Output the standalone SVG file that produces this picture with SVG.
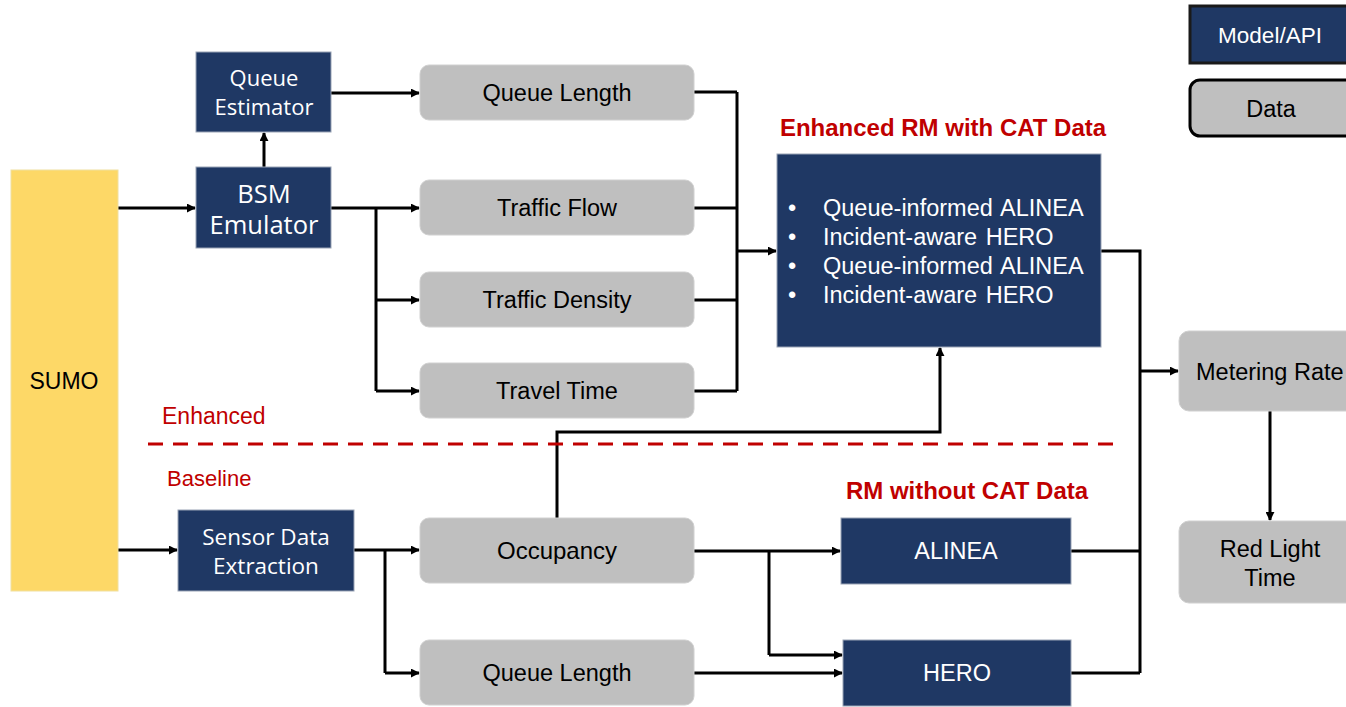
<svg xmlns="http://www.w3.org/2000/svg" width="1346" height="707" viewBox="0 0 1346 707">
<defs>
<marker id="ah" viewBox="0 0 10 10" refX="9" refY="5" markerWidth="9" markerHeight="9" markerUnits="userSpaceOnUse" orient="auto">
<path d="M0,0 L10,5 L0,10 z" fill="#000"/>
</marker>
<style>
.model{fill:#1F3864;stroke:#9aa3b5;stroke-width:1}
.data{fill:#BFBFBF;stroke:#d0d0d0;stroke-width:1}
.wt{fill:#fff;font-family:"Liberation Sans",Arial,sans-serif;font-size:23.5px;text-anchor:middle}
.ws{fill:#fff;font-family:"Open Sans","Noto Sans",sans-serif;font-size:22px;text-anchor:middle}
.bt{fill:#000;font-family:"Liberation Sans",Arial,sans-serif;font-size:23.5px;text-anchor:middle}
.red{fill:#C00000;font-family:"Liberation Sans",Arial,sans-serif;font-size:23px}
.redb{fill:#C00000;font-family:"Liberation Sans",Arial,sans-serif;font-size:24px;font-weight:bold;text-anchor:middle}
.c{fill:none;stroke:#000;stroke-width:3}
.ca{fill:none;stroke:#000;stroke-width:3;marker-end:url(#ah)}
.bul{fill:#fff;font-family:"Liberation Sans",Arial,sans-serif;font-size:23.5px;word-spacing:2px}
</style>
</defs>
<rect width="1346" height="707" fill="#fff"/>

<g id="legend-model"><rect x="1190" y="6" width="162" height="57" fill="#1F3864" stroke="#1a1a1a" stroke-width="3"/><text class="wt" x="1270" y="43" style="font-size:22.5px">Model/API</text></g>
<g id="legend-data"><rect x="1190" y="80" width="170" height="56" rx="10" fill="#BFBFBF" stroke="#000" stroke-width="3"/><text class="bt" x="1271" y="117">Data</text></g>

<g id="connectors">
<path class="ca" d="M118,208 H195"/>
<path class="ca" d="M264,167 V133"/>
<path class="ca" d="M331,93 H419"/>
<path class="ca" d="M331,208 H419"/>
<path class="c" d="M376,208 V391"/>
<path class="ca" d="M376,300 H419"/>
<path class="ca" d="M376,391 H419"/>
<path class="c" d="M694,92 H737 M694,208 H737 M694,300 H737 M694,391 H737 M737,92 V391"/>
<path class="ca" d="M737,251 H776"/>
<path class="c" d="M1101,251 H1140 V673"/>
<path class="ca" d="M1140,371 H1178"/>
<path class="ca" d="M1270,411 V520"/>
<path class="ca" d="M118,550 H177"/>
<path class="ca" d="M354,550 H419"/>
<path class="c" d="M385,550 V673"/>
<path class="ca" d="M385,673 H419"/>
<path class="ca" d="M557,518 V432 H940 V348"/>
<path class="ca" d="M694,551 H840"/>
<path class="c" d="M769,551 V655"/>
<path class="ca" d="M769,655 H842"/>
<path class="ca" d="M694,673 H842"/>
<path class="c" d="M1071,551 H1140 M1071,673 H1140"/>
<path d="M148,444 H1120" fill="none" stroke="#C00000" stroke-width="3" stroke-dasharray="15,10"/>
</g>

<g id="sumo"><rect x="11" y="170" width="107" height="421" fill="#FDD867" stroke="#f0e0a0" stroke-width="1"/><text class="bt" x="64" y="389" style="font-size:23px">SUMO</text></g>

<g id="queue-estimator"><rect class="model" x="196" y="52" width="135" height="80"/><text class="ws" x="264" y="86">Queue</text><text class="ws" x="264" y="115">Estimator</text></g>
<g id="bsm-emulator"><rect class="model" x="196" y="167" width="135" height="81"/><text class="ws" x="264" y="203" style="font-size:25.5px">BSM</text><text class="ws" x="264" y="234" style="font-size:25.5px">Emulator</text></g>

<g id="queue-length-top"><rect class="data" x="420" y="65" width="274" height="55" rx="9"/><text class="bt" x="557" y="101">Queue Length</text></g>
<g id="traffic-flow"><rect class="data" x="420" y="180" width="274" height="55" rx="9"/><text class="bt" x="557" y="216">Traffic Flow</text></g>
<g id="traffic-density"><rect class="data" x="420" y="272" width="274" height="55" rx="9"/><text class="bt" x="557" y="308">Traffic Density</text></g>
<g id="travel-time"><rect class="data" x="420" y="363" width="274" height="55" rx="9"/><text class="bt" x="557" y="399">Travel Time</text></g>

<g id="enhanced-rm">
<text class="redb" x="943" y="136">Enhanced RM with CAT Data</text>
<rect class="model" x="777" y="154" width="324" height="193"/>
<text class="bul" x="788" y="216">•</text><text class="bul" x="823" y="216">Queue-informed ALINEA</text>
<text class="bul" x="788" y="245">•</text><text class="bul" x="823" y="245">Incident-aware HERO</text>
<text class="bul" x="788" y="274">•</text><text class="bul" x="823" y="274">Queue-informed ALINEA</text>
<text class="bul" x="788" y="303">•</text><text class="bul" x="823" y="303">Incident-aware HERO</text>
</g>

<g id="metering-rate"><rect class="data" x="1179" y="331" width="180" height="80" rx="10"/><text class="bt" x="1196" y="380" style="text-anchor:start">Metering Rate</text></g>
<g id="red-light-time"><rect class="data" x="1179" y="521" width="180" height="82" rx="10"/><text class="bt" x="1270" y="557">Red Light</text><text class="bt" x="1270" y="586">Time</text></g>

<g id="labels">
<text class="red" x="162" y="424">Enhanced</text>
<text class="red" x="167" y="486" style="font-size:22px">Baseline</text>
</g>

<g id="sensor-data-extraction"><rect class="model" x="178" y="510" width="176" height="81"/><text class="ws" x="266" y="545" style="font-size:22.5px">Sensor Data</text><text class="ws" x="266" y="574" style="font-size:22.5px">Extraction</text></g>

<g id="occupancy"><rect class="data" x="420" y="518" width="274" height="65" rx="9"/><text class="bt" x="557" y="559" style="font-size:24px">Occupancy</text></g>
<g id="queue-length-bottom"><rect class="data" x="420" y="640" width="274" height="65" rx="9"/><text class="bt" x="557" y="681">Queue Length</text></g>

<g id="rm-without">
<text class="redb" x="967" y="499">RM without CAT Data</text>
</g>
<g id="alinea"><rect class="model" x="841" y="518" width="230" height="66"/><text class="wt" x="956" y="559">ALINEA</text></g>
<g id="hero"><rect class="model" x="843" y="640" width="228" height="66"/><text class="wt" x="957" y="681">HERO</text></g>
</svg>
